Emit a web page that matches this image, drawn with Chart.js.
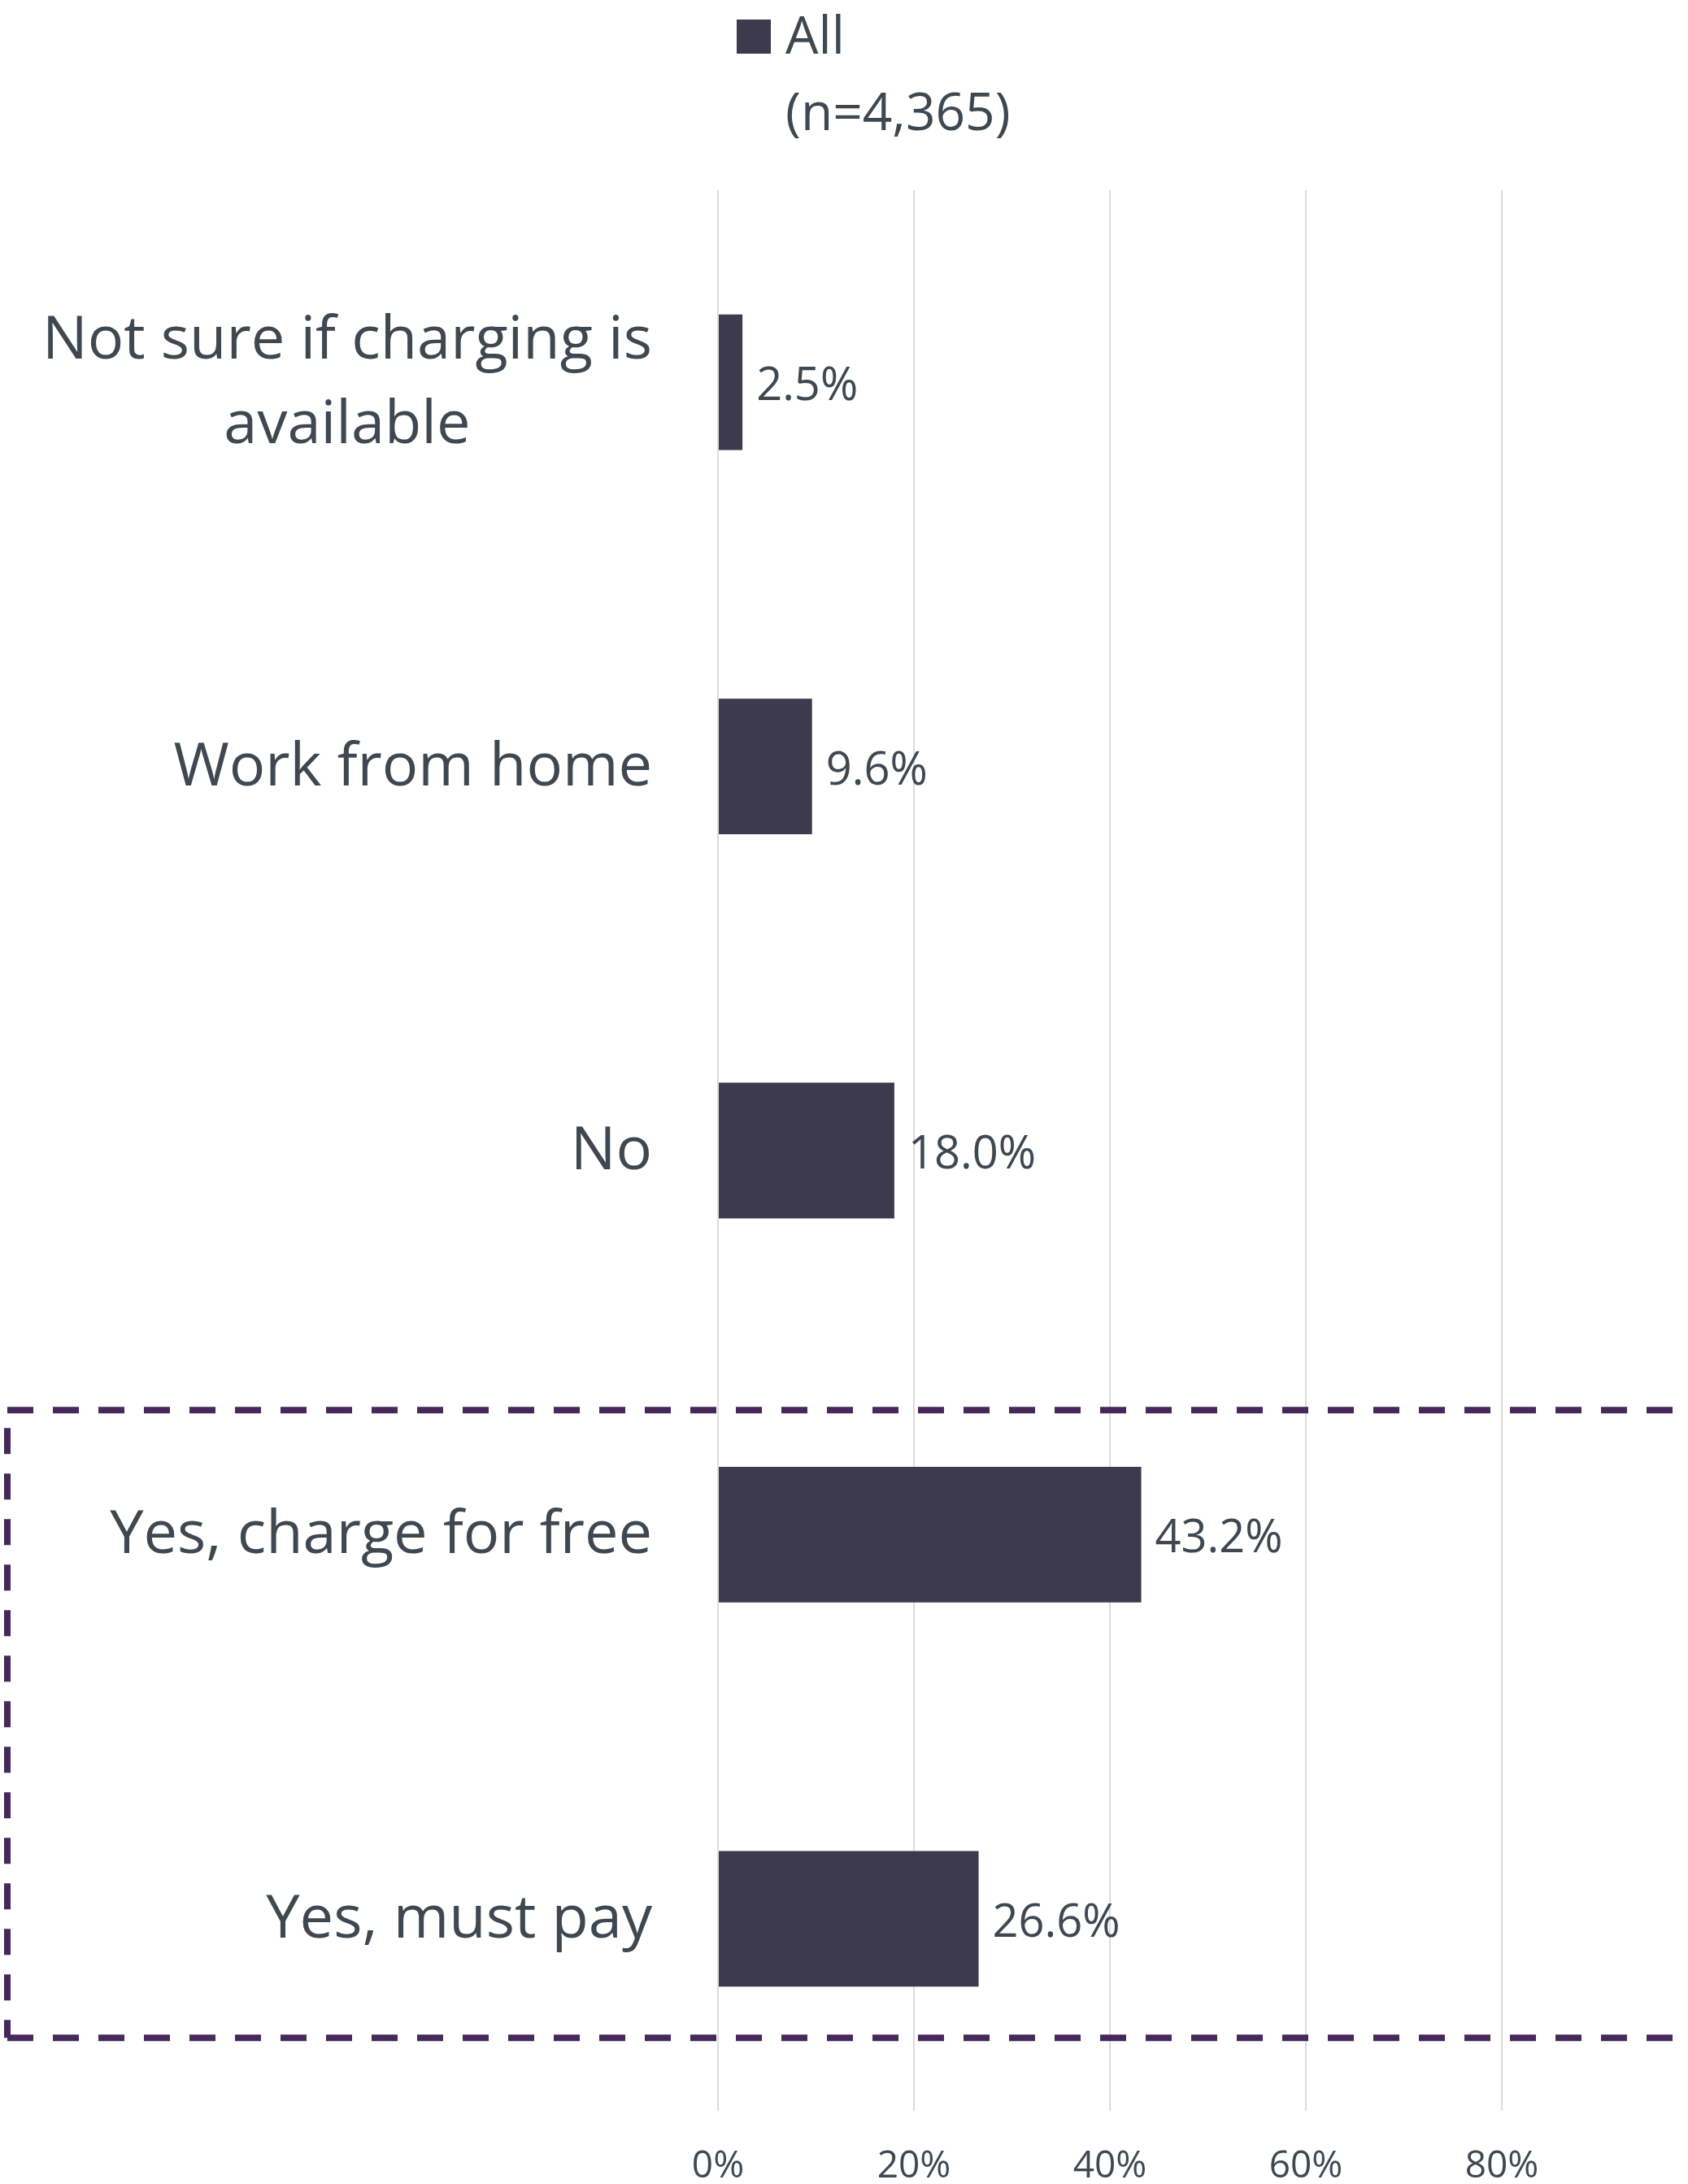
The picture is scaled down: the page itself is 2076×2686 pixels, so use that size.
<!DOCTYPE html>
<html>
<head>
<meta charset="utf-8">
<script src="https://cdn.jsdelivr.net/npm/chart.js@4.4.1/dist/chart.umd.min.js"></script>
<style>
  html, body { margin: 0; padding: 0; background: #ffffff; }
  canvas { display: block; }
</style>
</head>
<body>
<canvas id="chargeChart" width="2076" height="2686"></canvas>
<script>
// Workplace charging availability - horizontal bar chart

const categories = [
    ['Not sure if charging is', 'available'],
    'Work from home',
    'No',
    'Yes, charge for free',
    'Yes, must pay'
];
const allValues = [2.5, 9.6, 18.0, 43.2, 26.6];
const seriesName = 'All';
const sampleLabel = '(n=4,365)';
const xTicks = [0, 20, 40, 60, 80];

const textColor = '#3f4851';
const barColor = '#3d3a4d';
const boxColor = '#46285a';
const fontFamily = '"Open Sans", sans-serif';

// Category labels: each block right-aligned, lines centred inside the block
const categoryLabels = {
    id: 'categoryLabels',
    afterDraw(chart) {
        const ctx = chart.ctx;
        const y = chart.scales.y;
        const right = y.right - 81;
        const lineH = 104;
        ctx.save();
        ctx.font = '74px ' + fontFamily;
        ctx.fillStyle = textColor;
        ctx.textAlign = 'center';
        ctx.textBaseline = 'middle';
        categories.forEach(function (label, i) {
            const lines = Array.isArray(label) ? label : [label];
            let w = 0;
            lines.forEach(function (l) { w = Math.max(w, ctx.measureText(l).width); });
            const cy = y.getPixelForTick(i);
            const startY = cy - (lines.length - 1) * lineH / 2 + 2;
            lines.forEach(function (l, k) {
                ctx.fillText(l, right - w / 2, startY + k * lineH);
            });
        });
        ctx.restore();
    }
};

// Value labels at the end of each bar
const valueLabels = {
    id: 'valueLabels',
    afterDatasetsDraw(chart) {
        const ctx = chart.ctx;
        const meta = chart.getDatasetMeta(0);
        ctx.save();
        ctx.font = '56px ' + fontFamily;
        ctx.fillStyle = textColor;
        ctx.textAlign = 'left';
        ctx.textBaseline = 'middle';
        meta.data.forEach(function (bar, i) {
            ctx.fillText(allValues[i].toFixed(1) + '%', bar.x + 17, bar.y + 6);
        });
        ctx.restore();
    }
};

// Legend: square marker with two-line label
const topLegend = {
    id: 'topLegend',
    afterDraw(chart) {
        const ctx = chart.ctx;
        ctx.save();
        ctx.fillStyle = barColor;
        ctx.fillRect(906, 24, 42, 42);
        ctx.font = '64px ' + fontFamily;
        ctx.fillStyle = textColor;
        ctx.textAlign = 'left';
        ctx.textBaseline = 'alphabetic';
        ctx.fillText(seriesName, 966, 66);
        ctx.fillText(sampleLabel, 966, 160);
        ctx.restore();
    }
};

// Dashed highlight box around the "Yes" answers
const highlightBox = {
    id: 'highlightBox',
    afterDraw(chart) {
        const ctx = chart.ctx;
        const y = chart.scales.y;
        const top = y.getPixelForValue(3 - 0.324);
        const bottom = y.getPixelForValue(4 + 0.31);
        const left = 9;
        const right = chart.width + 40;
        ctx.save();
        ctx.strokeStyle = boxColor;
        ctx.lineWidth = 8;
        ctx.setLineDash([32, 24]);
        ctx.beginPath();
        ctx.moveTo(left, top);
        ctx.lineTo(right, top);
        ctx.stroke();
        ctx.beginPath();
        ctx.moveTo(left, top + 22);
        ctx.lineTo(left, bottom);
        ctx.stroke();
        ctx.beginPath();
        ctx.moveTo(left, bottom);
        ctx.lineTo(right, bottom);
        ctx.stroke();
        ctx.restore();
    }
};

new Chart(document.getElementById('chargeChart').getContext('2d'), {
    type: 'bar',
    data: {
        labels: categories,
        datasets: [{
            label: seriesName,
            data: allValues,
            backgroundColor: barColor,
            borderWidth: 0,
            categoryPercentage: 1,
            barPercentage: 0.353
        }]
    },
    options: {
        indexAxis: 'y',
        responsive: false,
        animation: false,
        devicePixelRatio: 1,
        layout: {
            padding: { top: 234, right: 0, bottom: 0, left: 0 }
        },
        plugins: {
            legend: { display: false },
            tooltip: { enabled: false }
        },
        scales: {
            x: {
                min: 0,
                max: 99,
                afterBuildTicks: function (scale) {
                    scale.ticks = xTicks.map(function (v) { return { value: v }; });
                },
                afterFit: function (scale) {
                    scale.height = 90;
                },
                ticks: {
                    color: textColor,
                    padding: 41,
                    font: { family: fontFamily, size: 46 },
                    callback: function (value) {
                        return value + '%';
                    }
                },
                grid: {
                    color: '#dcdcdc',
                    lineWidth: 2,
                    drawTicks: false
                },
                border: { display: false }
            },
            y: {
                afterFit: function (scale) {
                    scale.width = 883;
                },
                ticks: { display: false },
                grid: { display: false },
                border: { display: false }
            }
        }
    },
    plugins: [categoryLabels, valueLabels, topLegend, highlightBox]
});
</script>
</body>
</html>
